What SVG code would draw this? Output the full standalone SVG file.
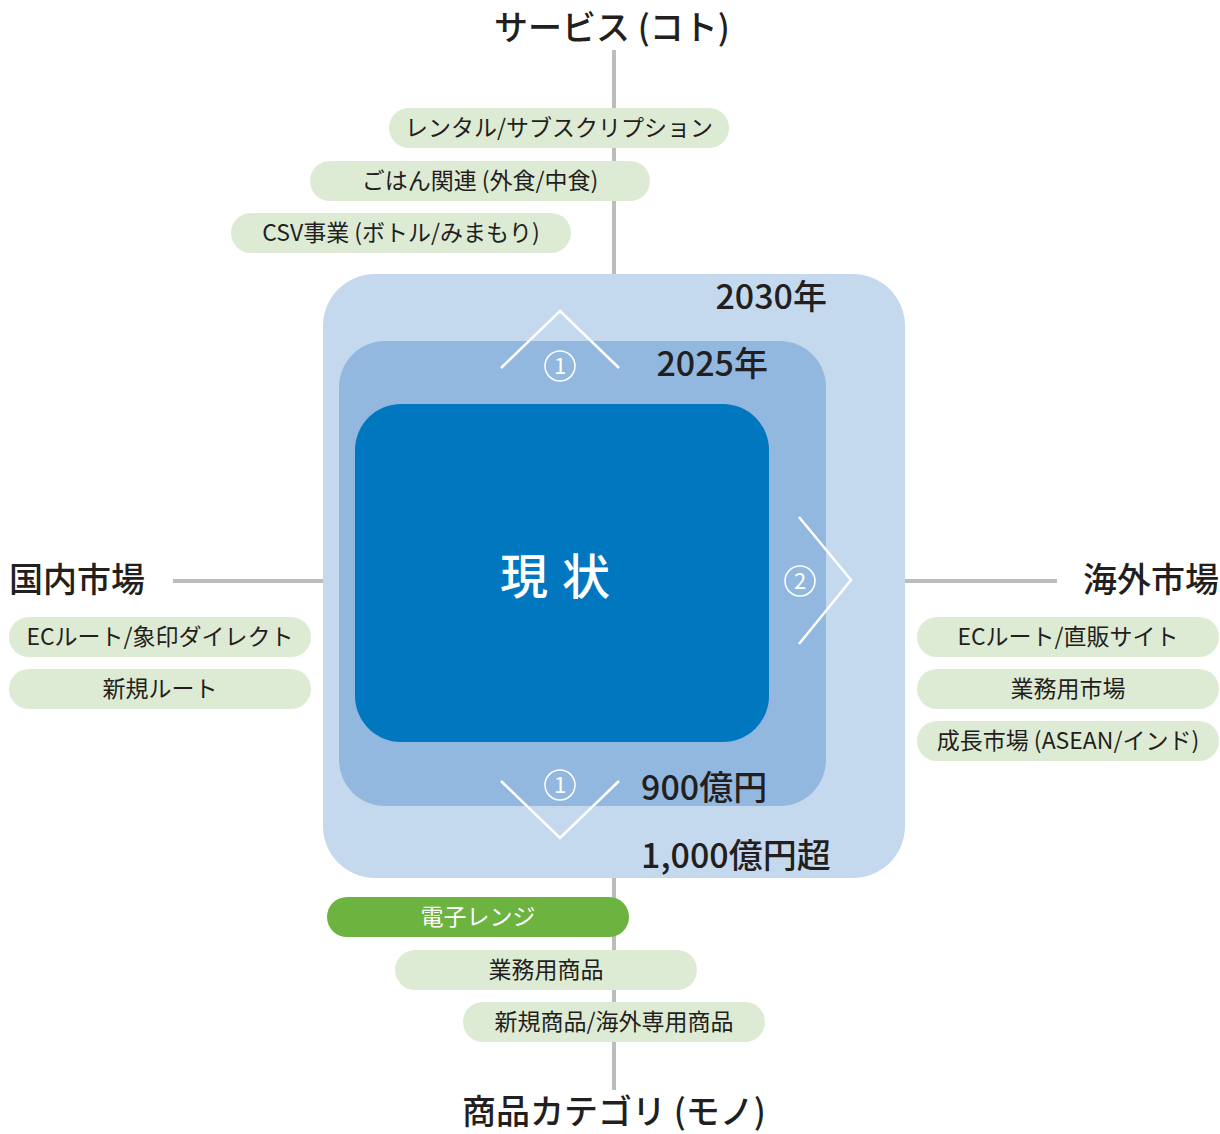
<svg xmlns="http://www.w3.org/2000/svg" width="1220" height="1134" viewBox="0 0 1220 1134">
<style>
text{font-family:"Noto Sans CJK JP","Noto Sans",sans-serif;fill:#231f20}
.ttl{font-size:34px;font-weight:500}
.pill{fill:#deebd4}
.pt{font-size:23px;text-anchor:middle}
.yr{font-size:34px;font-weight:500}
.axis{stroke:#bcbcbc;stroke-width:4;fill:none}
.chev{stroke:#fff;stroke-width:2.5;fill:none}
.circ{stroke:#fff;stroke-width:1.5;fill:none}
.num{font-size:22px;fill:#fff;text-anchor:middle}
</style>
<g id="connectors">
<line class="axis" x1="614" y1="50" x2="614" y2="276"/>
<line class="axis" x1="614" y1="876" x2="614" y2="1090"/>
<line class="axis" x1="173" y1="581" x2="325" y2="581"/>
<line class="axis" x1="903" y1="581" x2="1057" y2="581"/>
</g>
<g id="box2030"><rect x="323" y="274" width="582" height="604" rx="52" fill="#c5d9ee"/><text class="yr" x="827" y="309" text-anchor="end">2030年</text><text class="yr" x="641" y="868">1,000億円超</text></g>
<g id="box2025"><rect x="339" y="341" width="487" height="465" rx="46" fill="#93b8df"/><text class="yr" x="768" y="376" text-anchor="end">2025年</text><text class="yr" x="641" y="800">900億円</text></g>
<g id="current"><rect x="355" y="404" width="414" height="338" rx="46" fill="#0077be"/><text x="562" y="594" font-size="48" font-weight="500" text-anchor="middle" style="fill:#fff" letter-spacing="14">現状</text></g>
<g id="arrow-top"><polyline class="chev" points="501,368 560,311 619,368"/><circle class="circ" cx="560" cy="366" r="15"/><text class="num" x="560" y="374">1</text></g>
<g id="arrow-bottom"><polyline class="chev" points="501,781 560,838 619,781"/><circle class="circ" cx="560" cy="785" r="15"/><text class="num" x="560" y="793">1</text></g>
<g id="arrow-right"><polyline class="chev" points="799,517 851,580 799,644"/><circle class="circ" cx="800" cy="581" r="15"/><text class="num" x="800" y="589">2</text></g>
<g id="title-top"><text class="ttl" x="612" y="40" text-anchor="middle">サービス (コト)</text></g>
<g id="title-bottom"><text class="ttl" x="614" y="1124" text-anchor="middle">商品カテゴリ (モノ)</text></g>
<g id="title-left"><text class="ttl" x="9" y="592">国内市場</text></g>
<g id="title-right"><text class="ttl" x="1219" y="592" text-anchor="end">海外市場</text></g>
<g id="p-rental"><rect class="pill" x="389" y="108" width="340" height="40" rx="20"/><text class="pt" x="559" y="136">レンタル/サブスクリプション</text></g>
<g id="p-gohan"><rect class="pill" x="310" y="161" width="340" height="40" rx="20"/><text class="pt" x="480" y="189">ごはん関連 (外食/中食)</text></g>
<g id="p-csv"><rect class="pill" x="231" y="213" width="340" height="40" rx="20"/><text class="pt" x="401" y="241">CSV事業 (ボトル/みまもり)</text></g>
<g id="p-range"><rect x="327" y="897" width="302" height="40" rx="20" fill="#6cb33f"/><text class="pt" x="478" y="925" style="fill:#fff">電子レンジ</text></g>
<g id="p-gyomu"><rect class="pill" x="395" y="950" width="302" height="40" rx="20"/><text class="pt" x="546" y="978">業務用商品</text></g>
<g id="p-shinki"><rect class="pill" x="463" y="1002" width="302" height="40" rx="20"/><text class="pt" x="614" y="1030">新規商品/海外専用商品</text></g>
<g id="p-ec-dom"><rect class="pill" x="9" y="617" width="302" height="40" rx="20"/><text class="pt" x="160" y="645">ECルート/象印ダイレクト</text></g>
<g id="p-newroute"><rect class="pill" x="9" y="669" width="302" height="40" rx="20"/><text class="pt" x="160" y="697">新規ルート</text></g>
<g id="p-ec-ovs"><rect class="pill" x="917" y="617" width="302" height="40" rx="20"/><text class="pt" x="1068" y="645">ECルート/直販サイト</text></g>
<g id="p-gyomu-mkt"><rect class="pill" x="917" y="669" width="302" height="40" rx="20"/><text class="pt" x="1068" y="697">業務用市場</text></g>
<g id="p-growth"><rect class="pill" x="917" y="721" width="302" height="40" rx="20"/><text class="pt" x="1068" y="749">成長市場 (ASEAN/インド)</text></g>
</svg>
